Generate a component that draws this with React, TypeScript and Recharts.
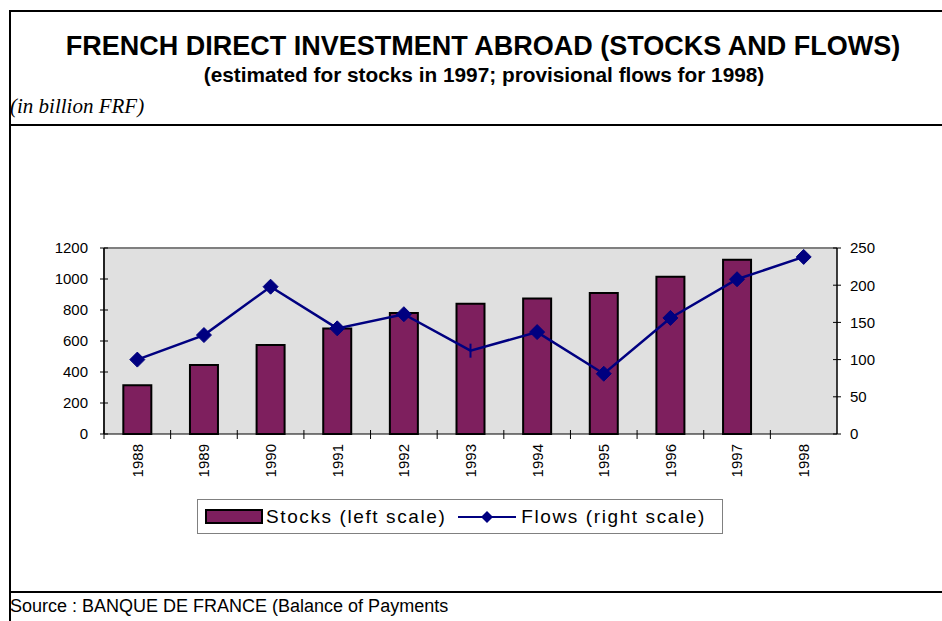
import React from "react";
import { Bar, CartesianGrid, ComposedChart, Line, ReferenceLine, XAxis, YAxis } from "recharts";

const years = ["1988", "1989", "1990", "1991", "1992", "1993", "1994", "1995", "1996", "1997", "1998"];
const stocks = [315, 445, 575, 680, 780, 840, 875, 910, 1015, 1125, null];
const flows = [100, 133, 198, 142, 161, 112, 137, 81, 156, 208, 238];
const leftTicks = [0, 200, 400, 600, 800, 1000, 1200];
const rightTicks = [0, 50, 100, 150, 200, 250];

const data = years.map((year, i) => ({ year, stocks: stocks[i], flows: flows[i] }));

const FONT = "'Liberation Sans', Arial, sans-serif";
const BAR_COLOR = "#7E1F5E";
const LINE_COLOR = "#000080";
const PLOT_LEFT = 104;
const PLOT_RIGHT = 837;
const BAND = (PLOT_RIGHT - PLOT_LEFT) / years.length;

const YearTick = (props: any) => {
  const { x, y, payload } = props;
  return (
    <g>
      <line x1={x - BAND / 2} x2={x - BAND / 2} y1={y - 4} y2={y + 5} stroke="#000" />
      <text
        transform={`translate(${x},${y + 10}) rotate(-90)`}
        textAnchor="end"
        dy="0.36em"
        fontSize={15}
        fontFamily={FONT}
        fill="#000"
      >
        {payload.value}
      </text>
    </g>
  );
};

const LeftTick = (props: any) => {
  const { x, y, payload } = props;
  return (
    <g>
      <line x1={x - 4} x2={x + 4} y1={y} y2={y} stroke="#000" />
      <text x={x - 16} y={y} dy="0.36em" textAnchor="end" fontSize={15} fontFamily={FONT} fill="#000">
        {payload.value}
      </text>
    </g>
  );
};

const RightTick = (props: any) => {
  const { x, y, payload } = props;
  return (
    <g>
      <line x1={x - 4} x2={x + 4} y1={y} y2={y} stroke="#000" />
      <text x={x + 13} y={y} dy="0.36em" textAnchor="start" fontSize={15} fontFamily={FONT} fill="#000">
        {payload.value}
      </text>
    </g>
  );
};

const Diamond = (props: any) => {
  const { cx, cy, index } = props;
  if (cx == null || cy == null) return null;
  if (index === 5) {
    return <line key={index} x1={cx} x2={cx} y1={cy - 7} y2={cy + 7} stroke={LINE_COLOR} strokeWidth={2} />;
  }
  const r = 7.5;
  return (
    <polygon
      key={index}
      points={`${cx},${cy - r} ${cx + r},${cy} ${cx},${cy + r} ${cx - r},${cy}`}
      fill={LINE_COLOR}
      stroke={LINE_COLOR}
    />
  );
};

const rule = (top: number): React.CSSProperties => ({
  position: "absolute",
  left: 10,
  top,
  width: 932,
  height: 2,
  background: "#000",
});

export default function App() {
  return (
    <div style={{ position: "absolute", left: 0, top: 0, width: 942, height: 621, background: "#fff", overflow: "hidden" }}>
      <div style={rule(10)} />
      <div style={rule(124)} />
      <div style={rule(591)} />
      <div style={{ position: "absolute", left: 9, top: 10, width: 2, height: 611, background: "#000" }} />

      <div
        style={{
          position: "absolute",
          left: 18,
          width: 930,
          top: 30,
          textAlign: "center",
          fontFamily: FONT,
          fontWeight: "bold",
          fontSize: 27,
          lineHeight: "32px",
          whiteSpace: "nowrap",
        }}
      >
        FRENCH DIRECT INVESTMENT ABROAD (STOCKS AND FLOWS)
      </div>
      <div
        style={{
          position: "absolute",
          left: 19,
          width: 930,
          top: 63,
          textAlign: "center",
          fontFamily: FONT,
          fontWeight: "bold",
          fontSize: 20.8,
          lineHeight: "24px",
          whiteSpace: "nowrap",
        }}
      >
        (estimated for stocks in 1997; provisional flows for 1998)
      </div>
      <div
        style={{
          position: "absolute",
          left: 10,
          top: 94,
          fontFamily: "'Liberation Serif', 'Times New Roman', serif",
          fontStyle: "italic",
          fontSize: 21,
          lineHeight: "24px",
        }}
      >
        (in billion FRF)
      </div>

      <div style={{ position: "absolute", left: 0, top: 238 }}>
        <ComposedChart width={942} height={250} data={data} margin={{ top: 10, right: 0, bottom: 0, left: 0 }} barCategoryGap="29%">
          <CartesianGrid fill="#E0E0E0" horizontal={false} vertical={false} />
          <ReferenceLine yAxisId="left" y={1200} stroke="#808080" strokeWidth={2} />
          <XAxis
            dataKey="year"
            tickLine={false}
            tickSize={0}
            tickMargin={0}
            height={54}
            interval={0}
            axisLine={{ stroke: "#000" }}
            tick={<YearTick />}
          />
          <YAxis
            yAxisId="left"
            width={104}
            domain={[0, 1200]}
            ticks={leftTicks}
            tickLine={false}
            tickSize={0}
            tickMargin={0}
            axisLine={{ stroke: "#222", strokeWidth: 2 }}
            tick={<LeftTick />}
          />
          <YAxis
            yAxisId="right"
            orientation="right"
            width={105}
            domain={[0, 250]}
            ticks={rightTicks}
            tickLine={false}
            tickSize={0}
            tickMargin={0}
            axisLine={{ stroke: "#000", strokeWidth: 1.5 }}
            tick={<RightTick />}
          />
          <Bar yAxisId="left" dataKey="stocks" fill={BAR_COLOR} stroke="#000" strokeWidth={2} isAnimationActive={false} />
          <Line
            yAxisId="right"
            dataKey="flows"
            stroke={LINE_COLOR}
            strokeWidth={2.5}
            dot={<Diamond />}
            activeDot={false}
            isAnimationActive={false}
          />
        </ComposedChart>
      </div>

      <div
        style={{
          position: "absolute",
          left: 197,
          top: 499,
          width: 524,
          height: 33,
          border: "1px solid #808080",
          fontFamily: FONT,
          fontSize: 19,
          display: "flex",
          alignItems: "center",
          whiteSpace: "nowrap",
        }}
      >
        <div style={{ width: 54, height: 11, background: BAR_COLOR, border: "2px solid #000", marginLeft: 7, marginRight: 3 }} />
        <span style={{ letterSpacing: 1.6 }}>Stocks (left scale)</span>
        <svg width={60} height={20} style={{ marginLeft: 12, marginRight: 3 }}>
          <line x1={0} x2={58} y1={10} y2={10} stroke={LINE_COLOR} strokeWidth={2} />
          <polygon points="29,4 35,10 29,16 23,10" fill={LINE_COLOR} />
        </svg>
        <span style={{ letterSpacing: 1.6 }}>Flows (right scale)</span>
      </div>

      <div style={{ position: "absolute", left: 10, top: 595, fontFamily: FONT, fontSize: 18, lineHeight: "22px" }}>
        Source : BANQUE DE FRANCE (Balance of Payments
      </div>
    </div>
  );
}
